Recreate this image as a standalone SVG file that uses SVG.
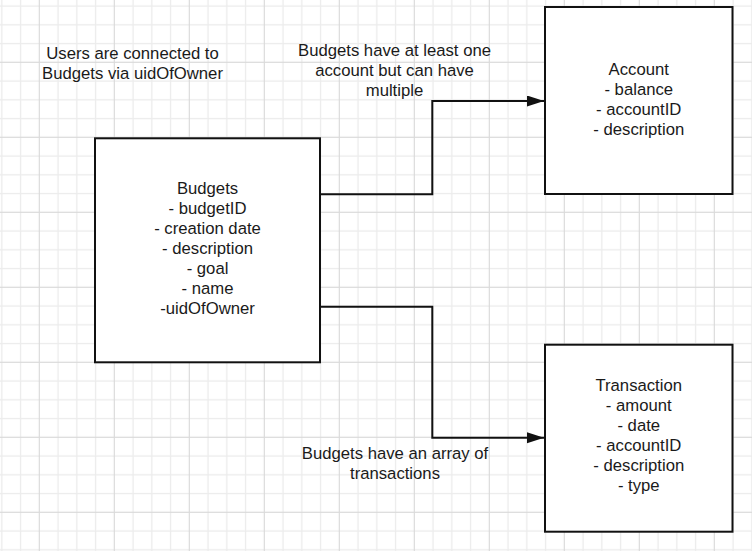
<svg xmlns="http://www.w3.org/2000/svg" width="752" height="551" viewBox="0 0 752 551">
  <style>
    .box { fill: #ffffff; stroke: #111111; stroke-width: 2; }
    .conn { fill: none; stroke: #111111; stroke-width: 2; }
    text { font-family: "Liberation Sans", Arial, sans-serif; font-size: 16.7px; fill: #1a1a1a; text-anchor: middle; }
  </style>
  <defs>
    <pattern id="grid" patternUnits="userSpaceOnUse" x="29.9" y="52.9" width="75" height="75">
      <path d="M28.15,0 V75 M46.9,0 V75 M65.65,0 V75 M0,28.15 H75 M0,46.9 H75 M0,65.65 H75" stroke="#ececec" stroke-width="1.3" fill="none"/>
      <path d="M9.4,0 V75 M0,9.4 H75" stroke="#dadada" stroke-width="1.2" fill="none"/>
    </pattern>
    <marker id="arrow" markerUnits="userSpaceOnUse" markerWidth="18" markerHeight="12" refX="17" refY="5.5" orient="auto">
      <path d="M0,0 L17,5.5 L0,11 Z" fill="#111111"/>
    </marker>
  </defs>
  <rect x="0" y="0" width="752" height="551" fill="#ffffff"/>
  <rect x="0" y="0" width="752" height="551" fill="url(#grid)"/>

  <g id="connectors">
    <path class="conn" d="M320,194.3 H432.3 V101 H544" marker-end="url(#arrow)"/>
    <path class="conn" d="M320,306.7 H432.3 V437.7 H544" marker-end="url(#arrow)"/>
  </g>

  <g id="budgets">
    <rect class="box" x="95" y="138.3" width="225" height="224"/>
    <text x="207.5" y="194">Budgets</text>
    <text x="207.5" y="214">- budgetID</text>
    <text x="207.5" y="234">- creation date</text>
    <text x="207.5" y="254">- description</text>
    <text x="207.5" y="274">- goal</text>
    <text x="207.5" y="294">- name</text>
    <text x="207.5" y="314">-uidOfOwner</text>
  </g>

  <g id="account">
    <rect class="box" x="545" y="7" width="187.5" height="187"/>
    <text x="638.75" y="75">Account</text>
    <text x="638.75" y="95">- balance</text>
    <text x="638.75" y="115">- accountID</text>
    <text x="638.75" y="135">- description</text>
  </g>

  <g id="transaction">
    <rect class="box" x="545" y="344.7" width="187.5" height="187"/>
    <text x="638.75" y="391">Transaction</text>
    <text x="638.75" y="411">- amount</text>
    <text x="638.75" y="431">- date</text>
    <text x="638.75" y="451">- accountID</text>
    <text x="638.75" y="471">- description</text>
    <text x="638.75" y="491">- type</text>
  </g>

  <g id="note-users">
    <text x="132.5" y="59.3">Users are connected to</text>
    <text x="132.5" y="79.3">Budgets via uidOfOwner</text>
  </g>

  <g id="label-account">
    <text x="394.5" y="55.7">Budgets have at least one</text>
    <text x="394.5" y="75.7">account but can have</text>
    <text x="394.5" y="95.7">multiple</text>
  </g>

  <g id="label-transactions">
    <text x="395" y="459.3">Budgets have an array of</text>
    <text x="395" y="478.8">transactions</text>
  </g>
</svg>
